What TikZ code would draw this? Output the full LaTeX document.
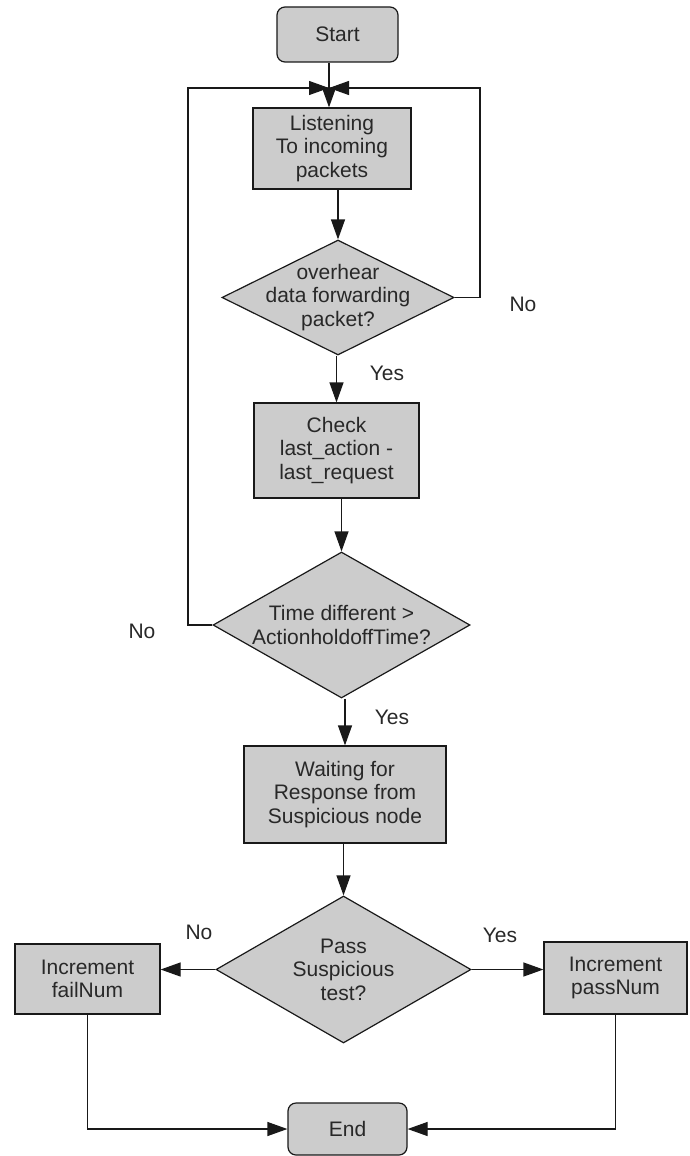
\documentclass[tikz,border=0pt]{standalone}
\usepackage{fontspec}
\setmainfont{Liberation Sans}
\usepackage{tikz}
\usetikzlibrary{arrows.meta,shapes.geometric}
\definecolor{flowgray}{RGB}{204,204,204}
\definecolor{flowline}{RGB}{25,25,25}
\definecolor{flowtext}{RGB}{40,40,40}
\tikzset{
  terminal/.style={draw=flowline, fill=flowgray, rounded corners=8pt, line width=1.2pt,
    align=center, text=flowtext, inner sep=0pt},
  block/.style={draw=flowline, fill=flowgray, line width=1.2pt, align=center,
    text=flowtext, inner sep=0pt},
  decision/.style={diamond, draw=flowline, fill=flowgray, line width=1.2pt, align=center,
    text=flowtext, inner xsep=-50pt, inner ysep=-40pt},
  arrow/.style={-{Triangle[length=20pt,width=14pt]}, line width=1.2pt, draw=flowline},
  link/.style={line width=1.2pt, draw=flowline},
  note/.style={text=flowtext},
}

\begin{document}
\begin{tikzpicture}[x=1pt, y=-1pt, font=\fontsize{21}{23.5}\selectfont]
  \useasboundingbox (0,0) rectangle (690,1156);
  \node[terminal, minimum width=121pt, minimum height=55pt] (start) at (337.5,34.5) {Start};
  \coordinate (merge) at (329,88);
  \node[block, minimum width=158pt, minimum height=81pt] (listen) at (332,148.5) {Listening\\To incoming\\packets};
  \node[decision, minimum width=232pt, minimum height=115pt] (overhear) at (338,297.5) {overhear\\data forwarding\\packet?};
  \node[block, minimum width=165pt, minimum height=95pt] (check) at (336.5,450.5) {Check\\last\_action -\\last\_request};
  \node[decision, minimum width=257pt, minimum height=146pt] (timediff) at (341.5,625) {Time different >\\ActionholdoffTime?};
  \node[block, minimum width=202pt, minimum height=97pt] (waiting) at (345,794.5) {Waiting for\\Response from\\Suspicious node};
  \node[decision, minimum width=255pt, minimum height=147pt] (passtest) at (343.5,969.5) {Pass\\Suspicious\\test?};
  \node[block, minimum width=145pt, minimum height=70pt] (fail) at (87.5,979) {Increment\\failNum};
  \node[block, minimum width=143pt, minimum height=72pt] (pass) at (615.5,978) {Increment\\passNum};
  \node[terminal, minimum width=119pt, minimum height=52pt] (stop) at (347.5,1129) {End};

  % loop back to listening
  \draw[link] (start.south -| merge) -- (merge);
  \draw[arrow] (merge) -- (listen.north -| merge);
  \draw[arrow] (overhear.east) -- (480,297.5) -- (480,88) -- (merge);
  \draw[arrow] (timediff.west) -- (188,625) -- (188,88) -- (merge);

  % main column
  \draw[arrow] (listen.south -| overhear) -- (overhear);
  \draw[arrow] (overhear.south -| check) -- (check);
  \draw[arrow] (check.south -| timediff) -- (timediff);
  \draw[arrow] (timediff.south -| waiting) -- (waiting);
  \draw[arrow] (waiting.south -| passtest) -- (passtest);

  % result of test
  \draw[arrow] (passtest.west) -- (fail.east |- passtest.west);
  \draw[arrow] (passtest.east) -- (pass.west |- passtest.east);
  \draw[arrow] (fail.south) |- (stop.west);
  \draw[arrow] (pass.south) |- (stop.east);

  \node[note] (no1) at (523,304) {No};
  \node[note] (yes1) at (387,373) {Yes};
  \node[note] (no2) at (142,631) {No};
  \node[note] (yes2) at (392,717) {Yes};
  \node[note] (no3) at (199,932) {No};
  \node[note] (yes3) at (500,935) {Yes};
\end{tikzpicture}
\end{document}
